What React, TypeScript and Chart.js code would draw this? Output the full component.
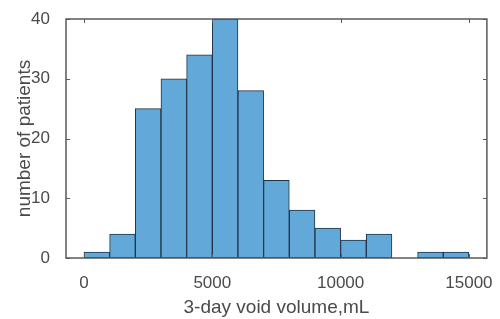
import React, { useEffect, useRef } from "react";
import { Chart, registerables } from "chart.js";

Chart.register(...registerables);

const binCenters = [500, 1500, 2500, 3500, 4500, 5500, 6500, 7500, 8500, 9500, 10500, 11500, 12500, 13500, 14500];
const counts = [1, 4, 25, 30, 34, 40, 28, 13, 8, 5, 3, 4, 0, 1, 1];
const xTickValues = [0, 5000, 10000, 15000];
const yTickValues = [0, 10, 20, 30, 40];
const xTitle = "3-day void volume,mL";
const yTitle = "number of patients";

const textColor = "#4a4a4a";
const fontFamily = "'Liberation Sans', Arial, Helvetica, sans-serif";

const boxPlugin = {
  id: "matlabBox",
  afterDatasetsDraw(chart: any) {
    const { ctx, chartArea } = chart;
    const { left, right, top, bottom } = chartArea;
    const xs = chart.scales.x;
    const ys = chart.scales.y;
    ctx.save();
    ctx.strokeStyle = "#5a5a5a";
    ctx.lineWidth = 1.5;
    ctx.strokeRect(left, top, right - left, bottom - top);
    ctx.lineWidth = 1;
    const tl = 4;
    ctx.beginPath();
    xTickValues.forEach((v) => {
      const px = Math.round(xs.getPixelForValue(v)) + 0.5;
      ctx.moveTo(px, bottom);
      ctx.lineTo(px, bottom - tl);
      ctx.moveTo(px, top);
      ctx.lineTo(px, top + tl);
    });
    yTickValues.forEach((v) => {
      const py = Math.round(ys.getPixelForValue(v)) + 0.5;
      ctx.moveTo(left, py);
      ctx.lineTo(left + tl, py);
      ctx.moveTo(right, py);
      ctx.lineTo(right - tl, py);
    });
    ctx.stroke();
    ctx.restore();
  },
};

export default function App() {
  const ref = useRef<HTMLCanvasElement>(null);
  useEffect(() => {
    if (!ref.current) return;
    const chart = new Chart(ref.current, {
      type: "bar",
      data: {
        datasets: [
          {
            data: binCenters.map((x, i) => ({ x, y: counts[i] })),
            backgroundColor: "#62a8d9",
            borderColor: "#1f3347",
            borderWidth: 1,
            borderSkipped: false,
            barPercentage: 1,
            categoryPercentage: 1,
          },
        ],
      },
      options: {
        animation: false,
        responsive: false,
        devicePixelRatio: 1,
        layout: { padding: { top: 19, right: 10, left: 0, bottom: 0 } },
        plugins: { legend: { display: false }, tooltip: { enabled: false } },
        scales: {
          x: {
            type: "linear",
            min: -700,
            max: 15700,
            offset: false,
            grid: { display: false, offset: false },
            border: { display: false },
            afterBuildTicks: (scale: any) => {
              scale.ticks = xTickValues.map((v) => ({ value: v }));
            },
            afterFit: (scale: any) => {
              scale.height = 61;
            },
            ticks: {
              padding: 7,
              maxRotation: 0,
              color: textColor,
              font: { family: fontFamily, size: 17 },
              callback: (v: any) => String(v),
            },
            title: {
              display: true,
              text: xTitle,
              color: textColor,
              font: { family: fontFamily, size: 19 },
              padding: { top: 0, bottom: 0 },
            },
          },
          y: {
            min: 0,
            max: 40,
            grid: { display: false },
            border: { display: false },
            afterBuildTicks: (scale: any) => {
              scale.ticks = yTickValues.map((v) => ({ value: v }));
            },
            afterFit: (scale: any) => {
              scale.width = 66;
            },
            ticks: {
              padding: 8,
              color: textColor,
              font: { family: fontFamily, size: 17 },
            },
            title: {
              display: true,
              text: yTitle,
              color: textColor,
              font: { family: fontFamily, size: 19 },
              padding: { top: 13, bottom: 0 },
            },
          },
        },
      },
      plugins: [boxPlugin],
    });
    return () => chart.destroy();
  }, []);
  return (
    <div style={{ position: "absolute", left: 0, top: 0, width: 500, height: 319, background: "#fff" }}>
      <canvas ref={ref} width={500} height={319} />
    </div>
  );
}
